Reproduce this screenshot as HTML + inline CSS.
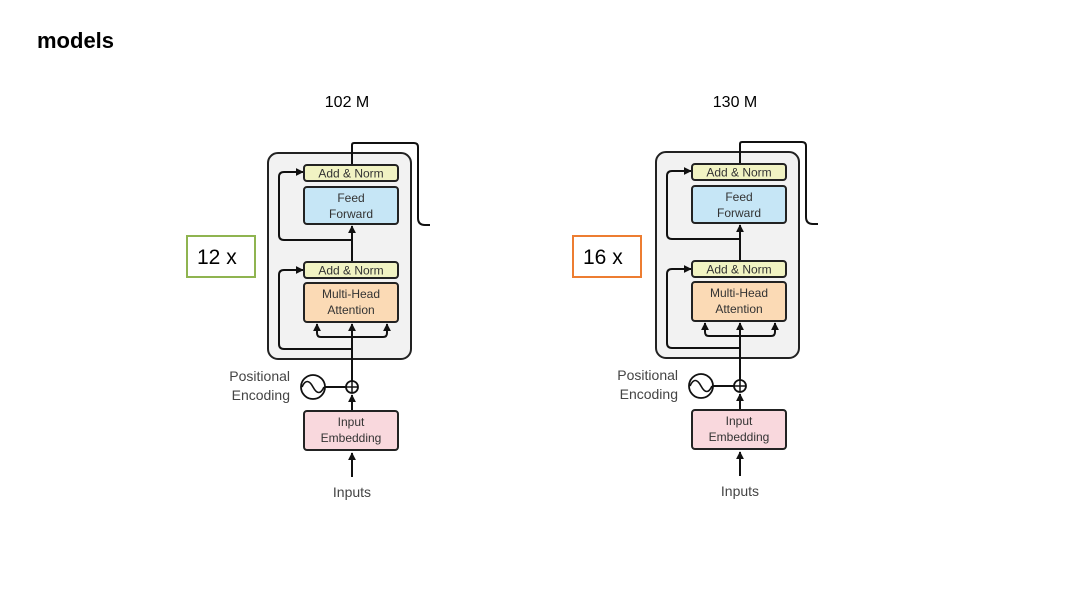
<!DOCTYPE html>
<html><head><meta charset="utf-8"><style>
html,body{margin:0;padding:0;background:#fff;}
body{width:1080px;height:605px;overflow:hidden;position:relative;font-family:"Liberation Sans",sans-serif;}
</style></head><body>
<svg width="1080" height="605" viewBox="0 0 1080 605" xmlns="http://www.w3.org/2000/svg">
<defs>
<marker id="ah" viewBox="0 0 10 10" refX="9" refY="5" markerWidth="4" markerHeight="4" orient="auto"><path d="M0,0 L10,5 L0,10 z" fill="#111"/></marker>
<g id="d">
  <rect x="268" y="153" width="143" height="206" rx="10" fill="#f2f2f2" stroke="#222" stroke-width="2"/>
  <!-- top exit -->
  <path d="M352,165 V145 Q352,143 354,143 H414 Q418,143 418,147 V218 Q418,225 425,225 H430" fill="none" stroke="#111" stroke-width="2"/>
  <!-- main vertical -->
  <line x1="352" y1="477" x2="352" y2="453" stroke="#111" stroke-width="2" marker-end="url(#ah)"/>
  <line x1="352" y1="411" x2="352" y2="395" stroke="#111" stroke-width="2" marker-end="url(#ah)"/>
  <line x1="352" y1="381" x2="352" y2="324" stroke="#111" stroke-width="2" marker-end="url(#ah)"/>
  <line x1="352" y1="278" x2="352" y2="226" stroke="#111" stroke-width="2" marker-end="url(#ah)"/>
  <!-- branches -->
  <path d="M352,337 H321 Q317,337 317,333 V324" fill="none" stroke="#111" stroke-width="2" marker-end="url(#ah)"/>
  <path d="M352,337 H383 Q387,337 387,333 V324" fill="none" stroke="#111" stroke-width="2" marker-end="url(#ah)"/>
  <!-- residuals -->
  <path d="M352,349 H284 Q279,349 279,344 V275 Q279,270 284,270 H303" fill="none" stroke="#111" stroke-width="2" marker-end="url(#ah)"/>
  <path d="M352,240 H284 Q279,240 279,235 V177 Q279,172 284,172 H303" fill="none" stroke="#111" stroke-width="2" marker-end="url(#ah)"/>
  <!-- boxes -->
  <rect x="304" y="165" width="94" height="16" rx="3" fill="#f1f3c3" stroke="#222" stroke-width="2"/>
  <text x="351" y="177.5" font-size="12" text-anchor="middle" fill="#333">Add &amp; Norm</text>
  <rect x="304" y="187" width="94" height="37" rx="3" fill="#c6e6f6" stroke="#222" stroke-width="2"/>
  <text x="351" y="202" font-size="12" text-anchor="middle" fill="#333">Feed</text>
  <text x="351" y="218" font-size="12" text-anchor="middle" fill="#333">Forward</text>
  <rect x="304" y="262" width="94" height="16" rx="3" fill="#f1f3c3" stroke="#222" stroke-width="2"/>
  <text x="351" y="274.5" font-size="12" text-anchor="middle" fill="#333">Add &amp; Norm</text>
  <rect x="304" y="283" width="94" height="39" rx="3" fill="#fbdab5" stroke="#222" stroke-width="2"/>
  <text x="351" y="298" font-size="12" text-anchor="middle" fill="#333">Multi-Head</text>
  <text x="351" y="314" font-size="12" text-anchor="middle" fill="#333">Attention</text>
  <rect x="304" y="411" width="94" height="39" rx="3" fill="#f9d8dd" stroke="#222" stroke-width="2"/>
  <text x="351" y="426" font-size="12" text-anchor="middle" fill="#333">Input</text>
  <text x="351" y="442" font-size="12" text-anchor="middle" fill="#333">Embedding</text>
  <!-- pos enc -->
  <line x1="325" y1="387" x2="346" y2="387" stroke="#111" stroke-width="2"/>
  <circle cx="352" cy="387" r="6" fill="#fff" stroke="#111" stroke-width="1.8"/>
  <path d="M346,387 H358 M352,381 V393" stroke="#111" stroke-width="1.5"/>
  <circle cx="313" cy="387" r="12" fill="#fff" stroke="#111" stroke-width="1.8"/>
  <path d="M302,387 Q307,376 313,387 Q319,398 324,387" fill="none" stroke="#111" stroke-width="1.6"/>
  <text x="290" y="381" font-size="14" text-anchor="end" fill="#444">Positional</text>
  <text x="290" y="400" font-size="14" text-anchor="end" fill="#444">Encoding</text>
  <text x="352" y="497" font-size="14" text-anchor="middle" fill="#444">Inputs</text>
</g>
</defs>
<text x="37" y="48" font-size="22" font-weight="bold" fill="#000">models</text>
<text x="347" y="107" font-size="16" text-anchor="middle" fill="#000">102 M</text>
<text x="735" y="107" font-size="16" text-anchor="middle" fill="#000">130 M</text>
<use href="#d"/>
<use href="#d" x="388" y="-1"/>
<rect x="187" y="236" width="68" height="41" fill="#fff" stroke="#8fb450" stroke-width="2"/>
<text x="197" y="264" font-size="21" fill="#000">12 x</text>
<rect x="573" y="236" width="68" height="41" fill="#fff" stroke="#ed7d31" stroke-width="2"/>
<text x="583" y="264" font-size="21" fill="#000">16 x</text>
</svg>
</body></html>
